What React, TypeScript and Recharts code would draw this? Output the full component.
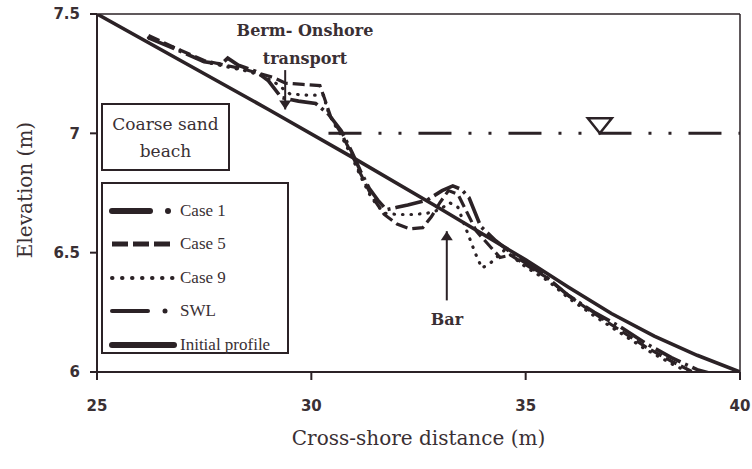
import React from 'react';
import {
  LineChart,
  Line,
  XAxis,
  YAxis,
  ReferenceLine,
  ReferenceDot,
} from 'recharts';

// Values (cross-shore distance in m, elevation in m)
const xTicks = [25, 30, 35, 40];
const yTicks = [6, 6.5, 7, 7.5];

const initialX = [25, 27, 29, 31, 33, 35, 36, 37, 38, 39, 40];
const initialY = [7.5, 7.3, 7.1, 6.895, 6.685, 6.47, 6.355, 6.245, 6.15, 6.07, 6.0];

const case1X = [26.2, 26.8, 27.5, 27.9, 28.05, 28.3, 28.7, 29.0, 29.3, 29.7, 30.1, 30.4, 30.7, 30.95, 31.15, 31.35, 31.55, 31.75, 32.0, 32.25, 32.7, 33.05, 33.3, 33.5, 33.68, 33.95, 34.3, 34.8, 35.4, 36.0, 36.6, 37.2, 37.8, 38.4, 39.0, 39.4];
const case1Y = [7.4, 7.355, 7.3, 7.29, 7.315, 7.285, 7.26, 7.22, 7.15, 7.135, 7.125, 7.08, 7.01, 6.92, 6.84, 6.77, 6.72, 6.68, 6.69, 6.7, 6.72, 6.76, 6.78, 6.765, 6.73, 6.61, 6.55, 6.48, 6.41, 6.32, 6.25, 6.19, 6.12, 6.06, 6.01, 5.99];

const case5X = [26.2, 26.8, 27.5, 28.0, 28.4, 28.8, 29.1, 29.4, 29.8, 30.2, 30.3, 30.45, 30.7, 30.95, 31.15, 31.4, 31.7, 32.0, 32.3, 32.6, 32.8, 33.0, 33.2, 33.42, 33.6, 33.85, 34.15, 34.4, 34.65, 35.0, 35.5, 36.0, 36.6, 37.2, 37.8, 38.4, 38.9, 39.2];
const case5Y = [7.41, 7.36, 7.305, 7.285, 7.27, 7.25, 7.235, 7.21, 7.205, 7.2, 7.15, 7.07, 7.0, 6.91, 6.83, 6.74, 6.66, 6.62, 6.6, 6.605, 6.65, 6.71, 6.76, 6.745, 6.68, 6.59, 6.53, 6.48, 6.49, 6.45, 6.395, 6.32, 6.245, 6.175, 6.105, 6.045, 6.0, 5.98];

const case9X = [26.2, 26.8, 27.5, 28.0, 28.4, 28.8, 29.1, 29.5, 29.9, 30.3, 30.35, 30.5, 30.7, 30.95, 31.15, 31.4, 31.7, 32.0, 32.4, 32.7, 33.0, 33.22, 33.42, 33.65, 33.82, 33.98, 34.2, 34.5, 35.0, 35.5, 36.0, 36.6, 37.2, 37.8, 38.4, 38.9, 39.15];
const case9Y = [7.4, 7.36, 7.3, 7.28, 7.265, 7.245, 7.22, 7.165, 7.16, 7.16, 7.11, 7.05, 6.99, 6.9, 6.82, 6.73, 6.665, 6.66, 6.66, 6.665, 6.68, 6.71, 6.69, 6.58, 6.5, 6.435, 6.46, 6.51, 6.44, 6.385, 6.31, 6.235, 6.165, 6.095, 6.035, 5.99, 5.97];

const swlX = [30.4, 40];
const swlY = [7, 7];

// annotation anchors (data units)
const bermArrow = { x: 29.39, top: 7.265, bottom: 7.1 };
const barArrow = { x: 33.16, top: 6.59, bottom: 6.3 };
const swlMarker = { x: 36.73, y: 7.0 };

const toPoints = (xs: number[], ys: number[]) => xs.map((x, i) => ({ x, y: ys[i] }));

const INK = '#2b2226';
const TEXT = '#3a3034';
const SERIF = '"DejaVu Serif", serif';

const initialData = toPoints(initialX, initialY);
const case1Data = toPoints(case1X, case1Y);
const case5Data = toPoints(case5X, case5Y);
const case9Data = toPoints(case9X, case9Y);
const swlData = toPoints(swlX, swlY);

function Arrow({ x1, y1, x2, y2, up }: any) {
  const tipY = up ? Math.min(y1, y2) : Math.max(y1, y2);
  const x = x1;
  const h = up ? 9 : -9;
  return (
    <g>
      <line x1={x1} y1={y1} x2={x2} y2={y2} stroke={INK} strokeWidth={2} />
      <polygon points={`${x},${tipY} ${x - 6},${tipY + h} ${x + 6},${tipY + h}`} fill={INK} />
    </g>
  );
}

function TriangleMarker({ cx, cy }: any) {
  return (
    <polygon
      points={`${cx - 12},${cy - 15} ${cx + 12},${cy - 15} ${cx},${cy}`}
      fill="#fff"
      stroke={INK}
      strokeWidth={2.5}
      strokeLinejoin="miter"
    />
  );
}

const legendItems = [
  { label: 'Case 1', kind: 'dashdot' },
  { label: 'Case 5', kind: 'dash' },
  { label: 'Case 9', kind: 'dot' },
  { label: 'SWL', kind: 'swl' },
  { label: 'Initial profile', kind: 'solid' },
];

function LegendSample({ kind }: { kind: string }) {
  const common = { stroke: INK, strokeLinecap: 'round' as const };
  return (
    <svg width={70} height={12} style={{ display: 'block' }}>
      {kind === 'dashdot' && (
        <>
          <line x1={4} y1={6} x2={42} y2={6} {...common} strokeWidth={6} />
          <circle cx={60} cy={6} r={3} fill={INK} />
        </>
      )}
      {kind === 'dash' && (
        <line x1={4} y1={6} x2={62} y2={6} {...common} strokeWidth={5} strokeLinecap="butt" strokeDasharray="16 5" />
      )}
      {kind === 'dot' && (
        <line x1={4} y1={6} x2={66} y2={6} {...common} strokeWidth={4} strokeDasharray="0.5 9.5" />
      )}
      {kind === 'swl' && (
        <>
          <line x1={4} y1={6} x2={40} y2={6} {...common} strokeWidth={4} />
          <circle cx={57} cy={6} r={2.5} fill={INK} />
        </>
      )}
      {kind === 'solid' && <line x1={4} y1={6} x2={66} y2={6} {...common} strokeWidth={6} />}
    </svg>
  );
}

export default function App() {
  return (
    <div style={{ position: 'absolute', left: 0, top: 0, width: 752, height: 469, background: '#fff' }}>
      <LineChart width={752} height={469} margin={{ top: 14, right: 12, left: 37, bottom: 37 }}>
        <XAxis
          type="number"
          dataKey="x"
          domain={[25, 40]}
          ticks={xTicks}
          allowDataOverflow
          height={60}
          tickSize={8}
          tickMargin={20}
          axisLine={{ stroke: INK, strokeWidth: 2 }}
          tickLine={{ stroke: INK, strokeWidth: 2 }}
          tick={{ fill: TEXT, fontSize: 15, fontWeight: 'bold', fontFamily: '"DejaVu Sans", sans-serif' }}
        />
        <YAxis
          type="number"
          dataKey="y"
          domain={[6, 7.5]}
          ticks={yTicks}
          allowDataOverflow
          width={60}
          tickSize={7}
          tickMargin={10}
          axisLine={{ stroke: INK, strokeWidth: 2 }}
          tickLine={{ stroke: INK, strokeWidth: 2 }}
          tick={{ fill: TEXT, fontSize: 15, fontWeight: 'bold', fontFamily: '"DejaVu Sans", sans-serif' }}
        />
        <ReferenceLine y={7.5} stroke={INK} strokeWidth={1.5} />
        <ReferenceLine x={40} stroke={INK} strokeWidth={1.5} />

        <Line data={swlData} dataKey="y" stroke={INK} strokeWidth={3} strokeDasharray="33 17 3 17 3 17" dot={false} isAnimationActive={false} />
        <Line data={case9Data} dataKey="y" stroke={INK} strokeWidth={3.2} strokeLinecap="round" strokeDasharray="0.5 8" dot={false} isAnimationActive={false} />
        <Line data={case5Data} dataKey="y" stroke={INK} strokeWidth={3.2} strokeDasharray="12 5" dot={false} isAnimationActive={false} />
        <Line data={case1Data} dataKey="y" stroke={INK} strokeWidth={3.6} strokeDasharray="28 5 3 5" dot={false} isAnimationActive={false} />
        <Line data={initialData} dataKey="y" stroke={INK} strokeWidth={3.6} dot={false} isAnimationActive={false} />

        <ReferenceLine
          segment={[{ x: bermArrow.x, y: bermArrow.top }, { x: bermArrow.x, y: bermArrow.bottom }]}
          shape={(p: any) => <Arrow {...p} up={false} />}
        />
        <ReferenceLine
          segment={[{ x: barArrow.x, y: barArrow.bottom }, { x: barArrow.x, y: barArrow.top }]}
          shape={(p: any) => <Arrow {...p} up={true} />}
        />
        <ReferenceDot x={swlMarker.x} y={swlMarker.y} shape={(p: any) => <TriangleMarker {...p} />} />
      </LineChart>

      {/* annotations */}
      <div style={{ position: 'absolute', left: 205, top: 17, width: 200, textAlign: 'center', fontFamily: SERIF, fontWeight: 'bold', fontSize: 16, color: TEXT, lineHeight: '28px' }}>
        Berm- Onshore
        <br />
        transport
      </div>
      <div style={{ position: 'absolute', left: 417, top: 310, width: 60, textAlign: 'center', fontFamily: SERIF, fontWeight: 'bold', fontSize: 16, color: TEXT }}>
        Bar
      </div>
      <div style={{ position: 'absolute', left: 101, top: 103, width: 129, height: 68, border: `2px solid ${INK}`, textAlign: 'center', fontFamily: SERIF, fontSize: 17, color: TEXT, lineHeight: '27px', paddingTop: 6, boxSizing: 'border-box' }}>
        Coarse sand
        <br />
        beach
      </div>

      {/* legend */}
      <div style={{ position: 'absolute', left: 101, top: 182, width: 188, height: 172, border: `2px solid ${INK}`, boxSizing: 'border-box', background: '#fff', paddingTop: 10 }}>
        {legendItems.map((it) => (
          <div key={it.label} style={{ display: 'flex', alignItems: 'center', height: 33.5, paddingLeft: 5 }}>
            <LegendSample kind={it.kind} />
            <span style={{ fontFamily: '"Liberation Serif", serif', fontSize: 17, color: TEXT, marginLeft: 2 }}>{it.label}</span>
          </div>
        ))}
      </div>

      {/* axis titles */}
      <div style={{ position: 'absolute', left: 25, top: 190, width: 0, height: 0 }}>
        <div style={{ position: 'absolute', transform: 'translate(-50%, -50%) rotate(-90deg)', whiteSpace: 'nowrap', fontFamily: SERIF, fontSize: 20, color: TEXT }}>
          Elevation (m)
        </div>
      </div>
      <div style={{ position: 'absolute', left: 97, top: 426, width: 643, textAlign: 'center', fontFamily: SERIF, fontSize: 20, color: TEXT }}>
        Cross-shore distance (m)
      </div>
    </div>
  );
}
